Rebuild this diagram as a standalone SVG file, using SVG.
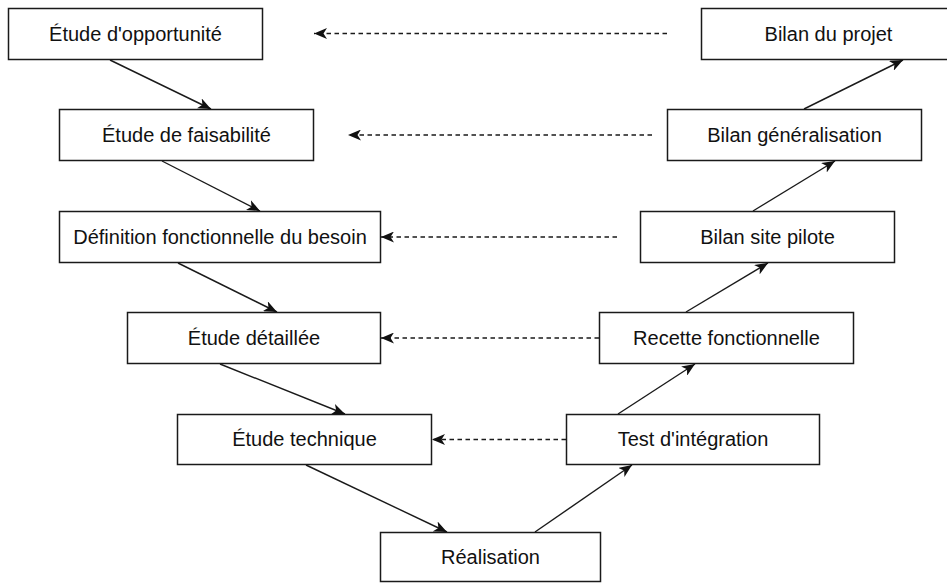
<svg xmlns="http://www.w3.org/2000/svg" width="947" height="583" viewBox="0 0 947 583">
  <defs>
    <style>
      .box rect { fill: #ffffff; stroke: #1a1a1a; stroke-width: 1.5; }
      .box text { font-family: "Liberation Sans", Arial, sans-serif; font-size: 20px; fill: #111111; text-anchor: middle; }
      .flow { fill: none; stroke: #1a1a1a; stroke-width: 1.4; marker-end: url(#head); }
      .back { fill: none; stroke: #1a1a1a; stroke-width: 1.4; stroke-dasharray: 4.5 3.5; marker-end: url(#head); }
    </style>
    <marker id="head" viewBox="0 0 13 11" refX="13" refY="5.5" markerWidth="13" markerHeight="11" markerUnits="userSpaceOnUse" orient="auto">
      <path d="M0,0 L13,5.5 L0,11 L3.5,5.5 Z" fill="#111111"/>
    </marker>
  </defs>
  <rect width="947" height="583" fill="#ffffff"/>

  <!-- Left branch of the V -->
  <g id="etude-opportunite" class="box">
    <rect x="8.5" y="8.5" width="254" height="51"/>
    <text x="135.5" y="40.5">Étude d'opportunité</text>
  </g>
  <g id="etude-faisabilite" class="box">
    <rect x="59.5" y="109.5" width="254" height="51"/>
    <text x="186.5" y="141.5">Étude de faisabilité</text>
  </g>
  <g id="definition-besoin" class="box">
    <rect x="59.5" y="211.5" width="321" height="51"/>
    <text x="220" y="243.5">Définition fonctionnelle du besoin</text>
  </g>
  <g id="etude-detaillee" class="box">
    <rect x="127.5" y="312.5" width="253" height="51"/>
    <text x="254" y="344.5">Étude détaillée</text>
  </g>
  <g id="etude-technique" class="box">
    <rect x="177.5" y="414.5" width="254" height="50"/>
    <text x="304.5" y="446">Étude technique</text>
  </g>

  <!-- Bottom of the V -->
  <g id="realisation" class="box">
    <rect x="380.5" y="532.5" width="220" height="49"/>
    <text x="490.5" y="563.5">Réalisation</text>
  </g>

  <!-- Right branch of the V -->
  <g id="test-integration" class="box">
    <rect x="566.5" y="414.5" width="253" height="50"/>
    <text x="693" y="446">Test d'intégration</text>
  </g>
  <g id="recette-fonctionnelle" class="box">
    <rect x="599.5" y="312.5" width="254" height="51"/>
    <text x="726.5" y="344.5">Recette fonctionnelle</text>
  </g>
  <g id="bilan-site-pilote" class="box">
    <rect x="640.5" y="211.5" width="254" height="51"/>
    <text x="767.5" y="243.5">Bilan site pilote</text>
  </g>
  <g id="bilan-generalisation" class="box">
    <rect x="667.5" y="109.5" width="254" height="51"/>
    <text x="794.5" y="141.5">Bilan généralisation</text>
  </g>
  <g id="bilan-projet" class="box">
    <rect x="701.5" y="8.5" width="254" height="51"/>
    <text x="828.5" y="40.5">Bilan du projet</text>
  </g>

  <!-- Connectors -->
  <g id="connectors">
    <!-- descending phases -->
    <line class="flow" x1="110" y1="60" x2="211" y2="109"/>
    <line class="flow" x1="162" y1="161" x2="260" y2="211"/>
    <line class="flow" x1="178" y1="263" x2="277" y2="312"/>
    <line class="flow" x1="220" y1="364" x2="345" y2="414"/>
    <line class="flow" x1="306" y1="465" x2="447" y2="532"/>
    <!-- ascending phases -->
    <line class="flow" x1="535" y1="532" x2="632" y2="465"/>
    <line class="flow" x1="618" y1="414" x2="695" y2="364"/>
    <line class="flow" x1="686" y1="312" x2="768" y2="263"/>
    <line class="flow" x1="753" y1="211" x2="835" y2="161"/>
    <line class="flow" x1="804" y1="109" x2="903" y2="60"/>
    <!-- validation feedback -->
    <line class="back" x1="667" y1="33.5" x2="314" y2="33.5"/>
    <line class="back" x1="652" y1="135" x2="348" y2="135"/>
    <line class="back" x1="617" y1="237" x2="381" y2="237"/>
    <line class="back" x1="599" y1="338" x2="381" y2="338"/>
    <line class="back" x1="566" y1="439.5" x2="432" y2="439.5"/>
  </g>
</svg>
